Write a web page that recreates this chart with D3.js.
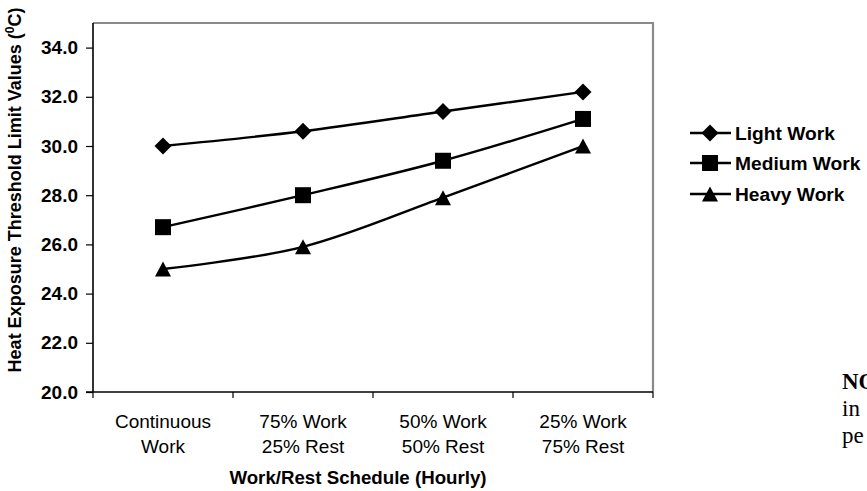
<!DOCTYPE html>
<html>
<head>
<meta charset="utf-8">
<script src="https://cdn.jsdelivr.net/npm/d3@7"></script>
<style>
  html, body { margin: 0; padding: 0; background: #fff; }
  svg { display: block; }
  text { font-family: "Liberation Sans", Arial, sans-serif; fill: #000; }
</style>
</head>
<body>
<svg id="chart" width="867" height="491"></svg>
<script>
// ---- data ----
const categories = [
  ["Continuous", "Work"],
  ["75% Work", "25% Rest"],
  ["50% Work", "50% Rest"],
  ["25% Work", "75% Rest"]
];
const seriesNames = ["Light Work", "Medium Work", "Heavy Work"];
const lightWork  = [30.0, 30.6, 31.4, 32.2];
const mediumWork = [26.7, 28.0, 29.4, 31.1];
const heavyWork  = [25.0, 25.9, 27.9, 30.0];
const yTicks = [20, 22, 24, 26, 28, 30, 32, 34];
const markerShapes = ["diamond", "square", "triangle"];
const noteLines = ["NO", "in", "pe"];

// ---- layout ----
const svg = d3.select("#chart");
const plot = { left: 93, right: 653, top: 23, bottom: 392 };

const catIdx = categories.map((d, i) => i);
const x = d3.scalePoint().domain(catIdx).range([plot.left, plot.right]).padding(0.5);
const xBand = d3.scaleBand().domain(catIdx).range([plot.left, plot.right]);
const y = d3.scaleLinear().domain([20, 35]).range([plot.bottom, plot.top]);

// plot frame (grey top & right)
svg.append("path")
  .attr("d", `M${plot.left},${plot.top}H${plot.right}V${plot.bottom}`)
  .attr("fill", "none").attr("stroke", "#8a8a8a").attr("stroke-width", 2.2);

// y axis
const yAxis = d3.axisLeft(y).tickValues(yTicks).tickSize(7).tickPadding(8)
  .tickFormat(d3.format(".1f"));
const gy = svg.append("g").attr("transform", `translate(${plot.left},0)`).call(yAxis);
gy.select(".domain").attr("stroke", "#000").attr("stroke-width", 1.6)
  .attr("d", `M0,${plot.top}V${plot.bottom}`);
gy.selectAll(".tick line").attr("stroke", "#000").attr("stroke-width", 1.2);
gy.selectAll(".tick text").style("font-family", "Liberation Sans, Arial, sans-serif")
  .style("font-size", "19px").style("font-weight", "bold").attr("fill", "#000");

// x axis: ticks at band boundaries
const gx = svg.append("g").attr("transform", `translate(0,${plot.bottom})`);
gx.append("line").attr("x1", plot.left - 7).attr("x2", plot.right)
  .attr("stroke", "#000").attr("stroke-width", 1.6);
const bounds = catIdx.map(i => xBand(i)).concat([xBand(catIdx.length - 1) + xBand.bandwidth()]);
gx.selectAll("line.tk").data(bounds).join("line").attr("class", "tk")
  .attr("x1", d => d).attr("x2", d => d).attr("y1", 0).attr("y2", 6)
  .attr("stroke", "#000").attr("stroke-width", 1.2);
const lbl = gx.selectAll("text.cat").data(categories).join("text").attr("class", "cat")
  .attr("text-anchor", "middle")
  .attr("transform", (d, i) => `translate(${x(i)},0)`)
  .style("font-size", "19px");
lbl.selectAll("tspan").data(d => d).join("tspan")
  .attr("x", 0).attr("y", (d, j) => 36 + j * 25).text(d => d);

// axis titles
svg.append("text").attr("x", 358).attr("y", 484).attr("text-anchor", "middle")
  .style("font-size", "18.7px").style("font-weight", "bold")
  .text("Work/Rest Schedule (Hourly)");

const yt = svg.append("text").attr("transform", "translate(21,190) rotate(-90)")
  .attr("text-anchor", "middle").style("font-size", "18px").style("font-weight", "bold");
yt.append("tspan").text("Heat Exposure Threshold Limit Values (");
yt.append("tspan").attr("dy", -7).style("font-size", "12px").text("0");
yt.append("tspan").attr("dy", 7).text("C)");

// ---- series ----
const allSeries = [lightWork, mediumWork, heavyWork];
const line = d3.line().x((d, i) => x(i)).y(d => y(d)).curve(d3.curveCardinal.tension(0));

function marker(g, shape, cx, cy) {
  if (shape === "diamond") {
    const r = 8.5;
    g.append("path").attr("d", `M${cx},${cy - r}L${cx + r},${cy}L${cx},${cy + r}L${cx - r},${cy}Z`).attr("fill", "#000");
  } else if (shape === "square") {
    const s = 16;
    g.append("rect").attr("x", cx - s / 2).attr("y", cy - s / 2).attr("width", s).attr("height", s).attr("fill", "#000");
  } else {
    const w = 16, h = 15;
    g.append("path").attr("d", `M${cx},${cy - h / 2}L${cx + w / 2},${cy + h / 2}L${cx - w / 2},${cy + h / 2}Z`).attr("fill", "#000");
  }
}

allSeries.forEach((vals, si) => {
  const g = svg.append("g");
  g.append("path").datum(vals).attr("d", line)
    .attr("fill", "none").attr("stroke", "#000").attr("stroke-width", 2.4);
  vals.forEach((v, i) => marker(g, markerShapes[si], x(i), y(v)));
});

// ---- legend ----
const legY = [133, 163, 194];
seriesNames.forEach((name, i) => {
  const g = svg.append("g");
  g.append("line").attr("x1", 690).attr("x2", 731).attr("y1", legY[i]).attr("y2", legY[i])
    .attr("stroke", "#000").attr("stroke-width", 2.4);
  marker(g, markerShapes[i], 710, legY[i]);
  g.append("text").attr("x", 735).attr("y", legY[i]).attr("dy", "0.36em")
    .style("font-size", "19.2px").style("font-weight", "bold").text(name);
});

// ---- partial note text at right edge (cut off by the page edge, as in the reference) ----
svg.selectAll("text.note").data(noteLines).join("text").attr("class", "note")
  .attr("x", 842).attr("y", (d, i) => 389 + i * 27)
  .style("font-family", "Liberation Serif, 'Times New Roman', serif")
  .style("font-size", "23px")
  .style("font-weight", (d, i) => i === 0 ? "bold" : "normal")
  .text(d => d);
</script>
</body>
</html>
